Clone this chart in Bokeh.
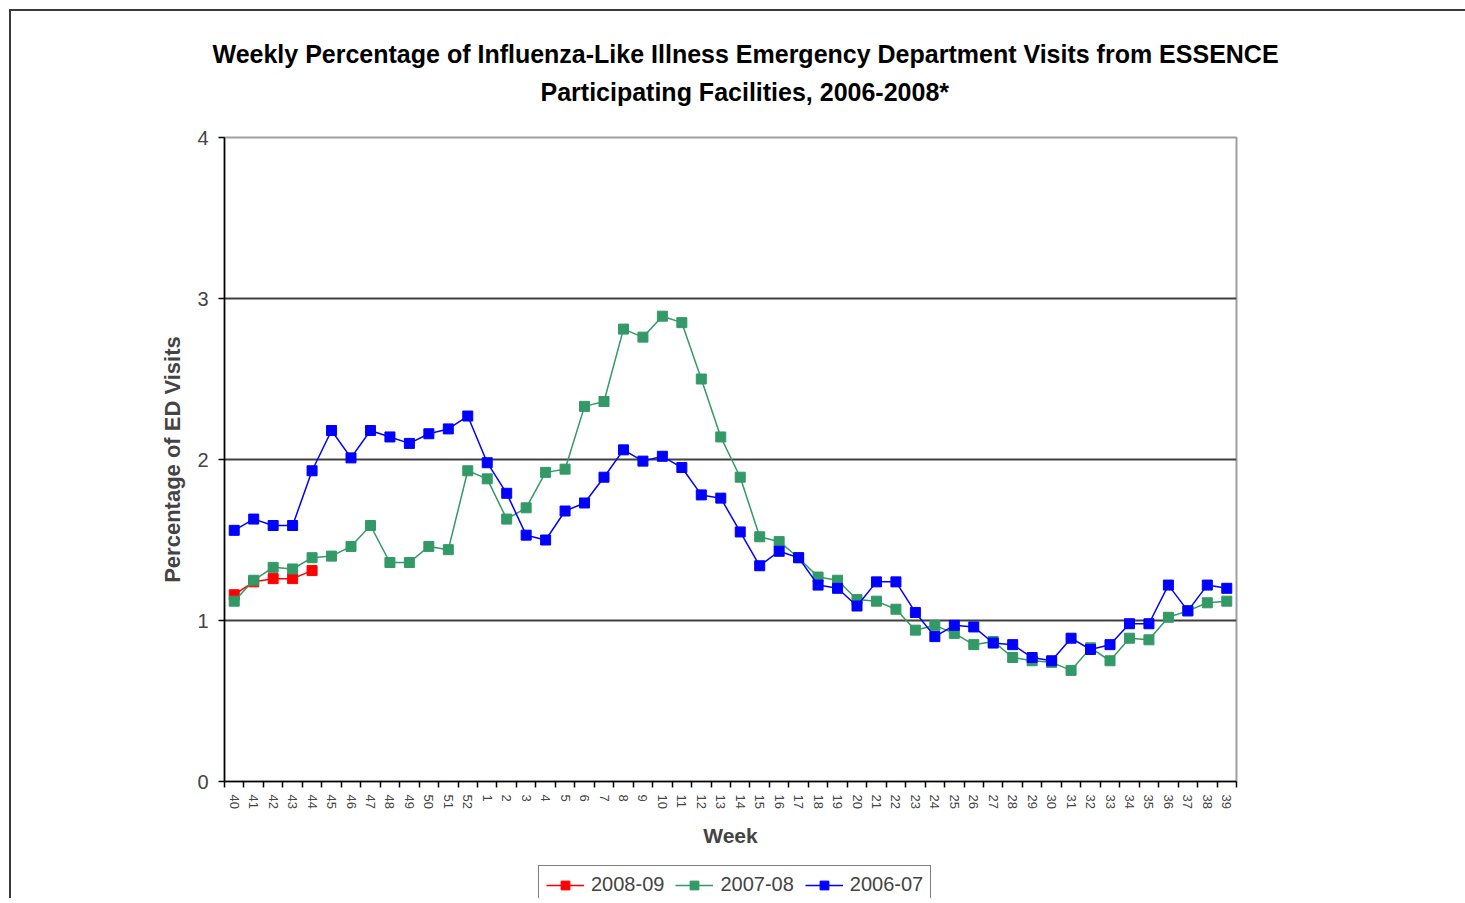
import numpy as np
from bokeh.plotting import figure
from bokeh.layouts import column
from bokeh.models import Range1d, FixedTicker, Title, Legend, LegendItem
from bokeh.embed import file_html
from bokeh.resources import INLINE

weeks = ["40", "41", "42", "43", "44", "45", "46", "47", "48", "49", "50", "51", "52",
         "1", "2", "3", "4", "5", "6", "7", "8", "9", "10", "11", "12", "13", "14",
         "15", "16", "17", "18", "19", "20", "21", "22", "23", "24", "25", "26", "27",
         "28", "29", "30", "31", "32", "33", "34", "35", "36", "37", "38", "39"]

s_2008_09 = [1.16, 1.24, 1.26, 1.26, 1.31]

s_2007_08 = [1.12, 1.25, 1.33, 1.32, 1.39, 1.40, 1.46, 1.59, 1.36, 1.36, 1.46, 1.44, 1.93,
             1.88, 1.63, 1.70, 1.92, 1.94, 2.33, 2.36, 2.81, 2.76, 2.89, 2.85, 2.50, 2.14,
             1.89, 1.52, 1.49, 1.39, 1.27, 1.25, 1.13, 1.12, 1.07, 0.94, 0.97, 0.92, 0.85,
             0.87, 0.77, 0.75, 0.74, 0.69, 0.83, 0.75, 0.89, 0.88, 1.02, 1.06, 1.11, 1.12]

s_2006_07 = [1.56, 1.63, 1.59, 1.59, 1.93, 2.18, 2.01, 2.18, 2.14, 2.10, 2.16, 2.19, 2.27,
             1.98, 1.79, 1.53, 1.50, 1.68, 1.73, 1.89, 2.06, 1.99, 2.02, 1.95, 1.78, 1.76,
             1.55, 1.34, 1.43, 1.39, 1.22, 1.20, 1.09, 1.24, 1.24, 1.05, 0.90, 0.97, 0.96,
             0.86, 0.85, 0.77, 0.75, 0.89, 0.82, 0.85, 0.98, 0.98, 1.22, 1.06, 1.22, 1.20]

series_names = ["2008-09", "2007-08", "2006-07"]
series_colors = ["#FF0000", "#339966", "#0000FF"]
y_ticks = [0, 1, 2, 3, 4]
title_lines = ["Weekly Percentage of Influenza-Like Illness Emergency Department Visits from ESSENCE",
               "Participating Facilities, 2006-2008*"]

FONT = "Liberation Sans"
W = 1454

n = len(weeks)
xpos = np.arange(n) + 0.5


def blank(height, **kw):
    f = figure(width=W, height=height, output_backend="svg", toolbar_location=None,
               x_axis_type=None, y_axis_type=None, x_range=Range1d(0, 1),
               y_range=Range1d(0, 1), title=None, **kw)
    f.outline_line_color = None
    f.background_fill_color = "white"
    f.border_fill_color = "white"
    return f


# ---- title strip: two title lines stacked above a thin empty frame
pt = blank(109, min_border_top=99, min_border_bottom=0)
pt.add_layout(Title(text=title_lines[1], align="left", offset=316, vertical_align="middle",
                    standoff=8, text_font=FONT, text_font_size="25px",
                    text_font_style="bold", text_color="black"), "above")
pt.add_layout(Title(text=title_lines[0], align="left", offset=-12, vertical_align="middle",
                    standoff=8, text_font=FONT, text_font_size="25px",
                    text_font_style="bold", text_color="black"), "above")

# ---- main chart
p = figure(width=W, height=742, output_backend="svg", toolbar_location=None,
           x_range=Range1d(0, n), y_range=Range1d(0, 4), title=None,
           min_border_left=213, min_border_right=229, min_border_top=17,
           min_border_bottom=81)
p.background_fill_color = "white"
p.border_fill_color = "white"
p.outline_line_color = "#a0a0a0"
p.outline_line_width = 2

p.yaxis.ticker = FixedTicker(ticks=y_ticks)
p.yaxis.axis_label = "Percentage of ED Visits"
p.yaxis.axis_label_text_font = FONT
p.yaxis.axis_label_text_font_size = "22px"
p.yaxis.axis_label_text_font_style = "bold"
p.yaxis.axis_label_standoff = 9
p.yaxis.major_label_text_font = FONT
p.yaxis.major_label_text_font_size = "20px"
p.yaxis.major_label_standoff = 10
p.yaxis.major_tick_out = 6
p.yaxis.major_tick_in = 0
p.yaxis.minor_tick_line_color = None
p.yaxis.axis_line_color = "black"
p.yaxis.axis_line_width = 1.5
p.yaxis.major_tick_line_width = 1.5

p.xaxis.ticker = FixedTicker(ticks=list(xpos), minor_ticks=list(range(n + 1)))
p.xaxis.major_label_overrides = {float(x): w for x, w in zip(xpos, weeks)}
p.xaxis.major_label_orientation = "vertical"
p.xaxis.major_label_text_font = FONT
p.xaxis.major_label_text_font_size = "13px"
p.xaxis.major_label_standoff = 7
p.xaxis.major_tick_out = 0
p.xaxis.major_tick_in = 0
p.xaxis.minor_tick_out = 6
p.xaxis.minor_tick_in = 0
p.xaxis.minor_tick_line_color = "black"
p.xaxis.minor_tick_line_width = 1.5
p.xaxis.axis_line_color = "black"
p.xaxis.axis_line_width = 1.5
p.xaxis.axis_label = "Week"
p.xaxis.axis_label_text_font = FONT
p.xaxis.axis_label_text_font_size = "21px"
p.xaxis.axis_label_text_font_style = "bold"
p.xaxis.axis_label_standoff = 12

p.xgrid.grid_line_color = None
p.ygrid.ticker = FixedTicker(ticks=y_ticks)
p.ygrid.grid_line_color = "#404040"
p.ygrid.grid_line_width = 2

for vals, name, col in zip([s_2008_09, s_2007_08, s_2006_07], series_names, series_colors):
    xs = list(xpos[:len(vals)])
    p.line(xs, vals, line_color=col, line_width=1.5)
    p.scatter(xs, vals, marker="square", size=10, fill_color=col, line_color=col)

# ---- legend strip (key glyphs only; one off-range point so keys can be drawn)
pl = blank(36, min_border=0)
items = []
for name, col in zip(series_names, series_colors):
    ln = pl.line(x=[np.nan], y=[np.nan], line_color=col, line_width=1.5)
    sc = pl.scatter(x=[np.nan], y=[np.nan], marker="square", size=9,
                    fill_color=col, line_color=col)
    items.append(LegendItem(label=name, renderers=[ln, sc]))
legend = Legend(items=items, orientation="horizontal", location=(314, -6),
                label_text_font=FONT, label_text_font_size="20px",
                glyph_width=38, glyph_height=22, label_standoff=7, spacing=11,
                padding=7, border_line_color="black", border_line_width=1.5,
                margin=0, background_fill_color="white")
pl.add_layout(legend, "center")

layout = column(pt, p, pl, spacing=0)
layout.margin = (9, 0, 0, 9)
layout.styles = {"border-top": "2px solid #3a3a3a", "border-left": "2px solid #3a3a3a"}

open("out.html", "w").write(file_html(layout, INLINE))
